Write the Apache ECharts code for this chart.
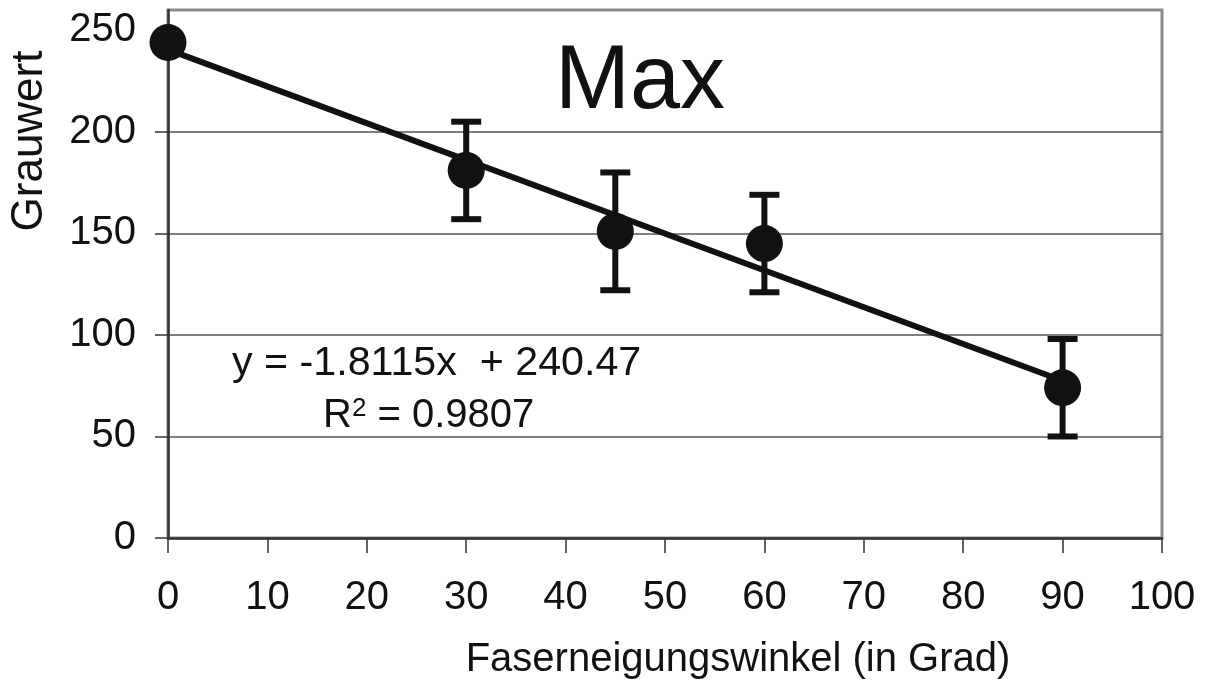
<!DOCTYPE html>
<html>
<head>
<meta charset="utf-8">
<script src="https://cdn.jsdelivr.net/npm/echarts@6/dist/echarts.min.js"></script>
<style>
  html, body { margin: 0; padding: 0; background: #fff; }
  #chart { width: 1208px; height: 688px; }
</style>
</head>
<body>
<div id="chart"></div>
<script>
// Messwerte (Faserneigungswinkel -> Grauwert)
const angles = [0, 30, 45, 60, 90]
const greyMean = [244, 181, 151, 145, 74]
const greyErr = [0, 24, 29, 24, 24]

// lineare Regression laut Diagramm
const slope = -1.8115
const intercept = 240.47
const trendX = [0, 90]

const xTicks = [0, 10, 20, 30, 40, 50, 60, 70, 80, 90, 100]
const yTicks = [0, 50, 100, 150, 200, 250]

const FONT = '"Liberation Sans", Arial, sans-serif'
const INK = '#111'

const chart = echarts.init(document.getElementById('chart'))

const points = angles.map((a, i) => [a, greyMean[i]])
const errBars = angles.map((a, i) => [a, greyMean[i] - greyErr[i], greyMean[i] + greyErr[i]])
  .filter((d, i) => greyErr[i] > 0)
const trend = trendX.map(x => [x, slope * x + intercept])

const option = {
  animation: false,
  backgroundColor: '#fff',
  grid: {
    left: 168,
    right: 46,
    top: 10,
    bottom: 150,
    show: true,
    borderColor: '#8a8a8a',
    borderWidth: 3,
    backgroundColor: '#fff'
  },
  xAxis: {
    type: 'value',
    min: 0,
    max: 100,
    interval: 10,
    axisLine: { show: true, onZero: false, lineStyle: { color: '#333', width: 2.5 } },
    axisTick: { show: true, inside: false, length: 15, lineStyle: { color: '#333', width: 1.5 } },
    axisLabel: {
      customValues: xTicks,
      margin: 40,
      color: INK,
      fontSize: 40,
      fontFamily: FONT
    },
    splitLine: { show: false }
  },
  yAxis: {
    type: 'value',
    min: 0,
    max: 260,
    interval: 50,
    axisLine: { show: true, onZero: false, lineStyle: { color: '#333', width: 2.5 } },
    axisTick: { show: true, customValues: yTicks, inside: false, length: 13, lineStyle: { color: '#333', width: 1.5 } },
    axisLabel: {
      customValues: yTicks,
      margin: 32,
      color: INK,
      fontSize: 40,
      fontFamily: FONT
    },
    splitLine: { show: true, showMinLine: false, showMaxLine: false, lineStyle: { color: '#555', width: 1.5 } }
  },
  series: [
    {
      name: 'Trend',
      type: 'line',
      data: trend,
      symbol: 'none',
      lineStyle: { color: INK, width: 6 },
      z: 3
    },
    {
      name: 'Fehler',
      type: 'custom',
      data: errBars,
      z: 4,
      renderItem: (params, api) => {
        const x = api.value(0)
        const lo = api.coord([x, api.value(1)])
        const hi = api.coord([x, api.value(2)])
        const half = 15
        const style = { stroke: INK, lineWidth: 6 }
        return {
          type: 'group',
          children: [
            { type: 'line', shape: { x1: lo[0], y1: lo[1], x2: hi[0], y2: hi[1] }, style },
            { type: 'line', shape: { x1: hi[0] - half, y1: hi[1], x2: hi[0] + half, y2: hi[1] }, style },
            { type: 'line', shape: { x1: lo[0] - half, y1: lo[1], x2: lo[0] + half, y2: lo[1] }, style }
          ]
        }
      }
    },
    {
      name: 'Max',
      type: 'scatter',
      data: points,
      symbol: 'circle',
      symbolSize: 37,
      itemStyle: { color: INK, opacity: 1 },
      z: 5
    }
  ],
  graphic: [
    {
      type: 'text',
      position: [640, 83],
      style: { text: 'Max', fill: INK, font: '90px ' + FONT, textAlign: 'center', textVerticalAlign: 'middle' }
    },
    {
      type: 'text',
      position: [232, 364],
      scaleX: 1.03,
      style: { text: 'y = -1.8115x  + 240.47', fill: INK, font: '40px ' + FONT, textAlign: 'left', textVerticalAlign: 'middle' }
    },
    {
      type: 'text',
      position: [323, 396],
      style: {
        text: '{r|R}{s|2}{r| = 0.9807}',
        fill: INK,
        textAlign: 'left',
        textVerticalAlign: 'top',
        rich: {
          r: { fontSize: 40, fontFamily: FONT, fill: INK, lineHeight: 40, verticalAlign: 'bottom' },
          s: { fontSize: 26, fontFamily: FONT, fill: INK, lineHeight: 26, verticalAlign: 'top' }
        }
      }
    },
    {
      type: 'text',
      position: [738, 660],
      style: { text: 'Faserneigungswinkel (in Grad)', fill: INK, font: '40px ' + FONT, textAlign: 'center', textVerticalAlign: 'middle' }
    },
    {
      type: 'text',
      position: [30, 141],
      rotation: Math.PI / 2,
      style: { text: 'Grauwert', fill: INK, font: '44px ' + FONT, textAlign: 'center', textVerticalAlign: 'middle' }
    }
  ]
}

chart.setOption(option)
window.addEventListener('resize', () => chart.resize())
</script>
</body>
</html>
